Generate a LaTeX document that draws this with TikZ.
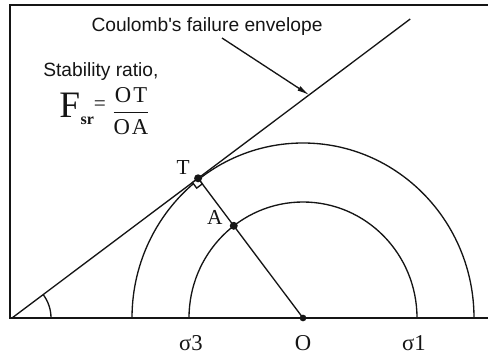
\documentclass[tikz,border=0pt]{standalone}
\usepackage{fontspec}
\setmainfont{Liberation Serif}
\newfontfamily\capsans{Liberation Sans}
\usetikzlibrary{arrows.meta,calc,positioning}
\definecolor{Ink}{HTML}{151515}
\newcommand{\sizedfont}[1]{\fontsize{#1}{#1}\selectfont}

\begin{document}
\begin{tikzpicture}[x=0.75pt,y=0.75pt,>=Latex,
    every node/.style={text=Ink,inner sep=0pt},
    frameline/.style={Ink,line width=1.3pt},
    curveline/.style={Ink,line width=1pt},
    capfont/.style={font=\capsans\sizedfont{14.4}},
    ptlabel/.style={font=\sizedfont{16}},
    axislabel/.style={font=\sizedfont{17},anchor=base},
    dotmark/.style={circle,fill=Ink,inner sep=0pt,minimum size=#1},
    dotmark/.default=6pt]
    \useasboundingbox (0,0) rectangle (488,358);

    \draw[frameline] (488,353) -- (10,353) -- (10,40) -- (488,40);

    \coordinate (E) at (12,40);
    \coordinate (O) at (303,40);
    \coordinate (s3) at (189,40);
    \coordinate (s1) at (417,40);
    \coordinate (env) at ($(E)+(36.9:498)$);
    \coordinate (T) at ($(E)!(O)!(env)$);
    \coordinate (A) at ($(O)!0.66!(T)$);
    \coordinate (arrtail) at (222,320);
    \coordinate (arrtip) at ($(E)!0.746!(env)$);

    \draw[curveline] (474,40) arc[start angle=0,end angle=180,x radius=171,y radius=175];
    \draw[curveline] (s1) arc[start angle=0,end angle=180,x radius=114,y radius=116];

    \draw[curveline] (E) -- (env);
    \draw[curveline] ($(E)+(39,0)$) arc[start angle=0,end angle=36.9,radius=39];
    \draw[curveline] (O) -- (T);
    \draw[curveline,fill=white,shift={(T)},rotate=216.9] (0,0) rectangle (7,7);

    \node[dotmark] (Tdot) at (T) {};
    \node[dotmark] (Adot) at (A) {};
    \node[dotmark=5pt] (Odot) at (O) {};

    \node[ptlabel] (Tlbl) at ($(T)+(-15,11)$) {T};
    \node[ptlabel] (Albl) at ($(A)+(-19,8)$) {A};

    \node[axislabel] (sig3) at (191,8) {σ3};
    \node[axislabel] (Olbl) at (303,8) {O};
    \node[axislabel] (sig1) at (414,8) {σ1};

    \node[capfont,anchor=base] (envlbl) at (207,327) {Coulomb's failure envelope};
    \draw[curveline,-{Latex[length=9pt,width=4pt]}] (arrtail) -- (arrtip);

    \node[capfont,anchor=base west] (stab) at (43,282) {Stability ratio,};
    \node[font=\sizedfont{28},anchor=base west] (F) at (59,241) {F};
    \node[font=\bfseries\sizedfont{12},anchor=base west] (sr) at ($(F.base east)+(0,-7)$) {sr};
    \node[font=\sizedfont{16}] (eq) at (100,252) {=};
    \node[font=\sizedfont{17}] (frac) at (131,247) {$\displaystyle\frac{\mbox{O\kern1.5pt T}}{\mbox{O\kern1.5pt A}}$};
  \end{tikzpicture}
\end{document}
